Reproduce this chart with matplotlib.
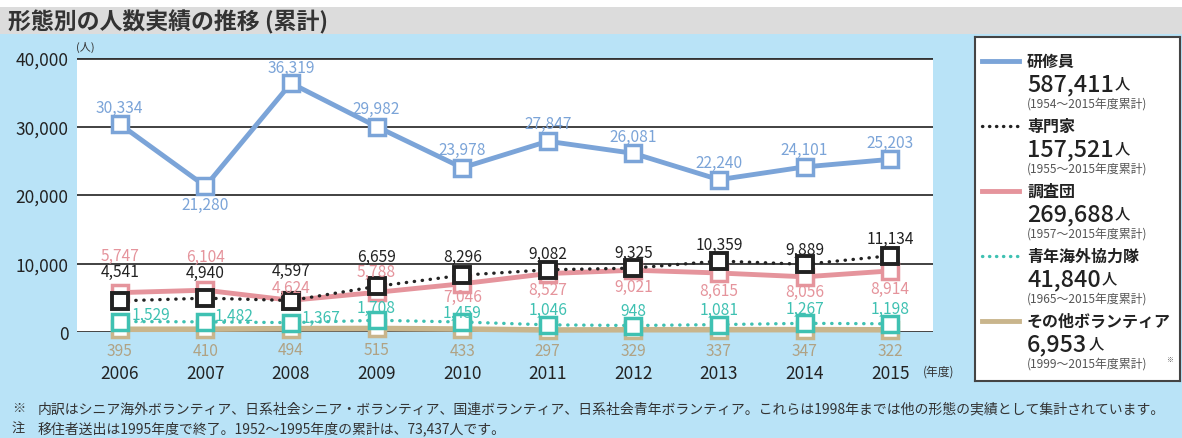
import matplotlib
matplotlib.use("Agg")
import matplotlib.pyplot as plt
import matplotlib.patches as mpatches

plt.rcParams['font.family'] = ['Noto Sans CJK JP', 'DejaVu Sans']

# data
years = [2006, 2007, 2008, 2009, 2010, 2011, 2012, 2013, 2014, 2015]
kenshuin = [30334, 21280, 36319, 29982, 23978, 27847, 26081, 22240, 24101, 25203]
senmonka = [4541, 4940, 4597, 6659, 8296, 9082, 9325, 10359, 9889, 11134]
chosadan = [5747, 6104, 4624, 5788, 7046, 8527, 9021, 8615, 8056, 8914]
kyoryokutai = [1529, 1482, 1367, 1708, 1459, 1046, 948, 1081, 1267, 1198]
sonota = [395, 410, 494, 515, 433, 297, 329, 337, 347, 322]

yticks = [0, 10000, 20000, 30000, 40000]

leg_names = ['研修員', '専門家', '調査団', '青年海外協力隊', 'その他ボランティア']
leg_totals = ['587,411', '157,521', '269,688', '41,840', '6,953']
leg_ranges = ['(1954〜2015年度累計)', '(1955〜2015年度累計)', '(1957〜2015年度累計)',
              '(1965〜2015年度累計)', '(1999〜2015年度累計)']

BLUE = '#7ba4d8'
BLACK = '#222222'
PINK = '#e5949c'
TEAL = '#3fc1b2'
TAN = '#c9b58c'
BG = '#b9e3f7'

# label offsets in pixels (dx, dy), dy positive = down
ofs_blue = [(0, -17), (0, 18), (0, -16), (0, -18), (0, -18), (0, -18), (0, -17), (0, -17), (0, -17), (0, -17)]
ofs_black = [(0, -29), (0, -26), (0, -30), (0, -30), (0, -19), (0, -16), (0, -16), (0, -17), (0, -15), (0, -17)]
ofs_pink = [(0, -37), (0, -34), (0, -13), (0, -21), (0, 13), (0, 16), (0, 16), (0, 17), (0, 15), (0, 18)]
ofs_teal = [(31, -7), (29, -6), (30, -5), (0, -13), (0, -10), (0, -15), (0, -15), (0, -15), (0, -15), (0, -15)]

fig = plt.figure(figsize=(11.82, 4.39), dpi=100)
fig.patch.set_facecolor(BG)

# title band
fig.patches.append(mpatches.Rectangle((0, 1 - 35 / 439), 1, 27 / 439, transform=fig.transFigure,
                                      facecolor='#dcdcdc', edgecolor='none', zorder=0))
fig.patches.append(mpatches.Rectangle((0, 1 - 8 / 439), 1, 8 / 439, transform=fig.transFigure,
                                      facecolor='white', edgecolor='none', zorder=0))
fig.text(8 / 1182, 1 - 22 / 439, '形態別の人数実績の推移 (累計)', fontsize=16.5, fontweight='bold',
         color='#333333', va='center', ha='left')

ax = fig.add_axes([77 / 1182, 1 - 333 / 439, 856 / 1182, 274 / 439])
ax.set_facecolor('white')
ax.set_xlim(2005.5, 2015.5)
ax.set_ylim(0, 40000)
for s in ax.spines.values():
    s.set_visible(False)
for v in yticks:
    ax.axhline(v, color='#333333', lw=2.0 if v in (0, 40000) else 1.3, zorder=1)
ax.set_yticks(yticks)
ax.set_yticklabels([f'{v:,}' for v in yticks], fontsize=12.5, color='#222222')
ax.set_xticks(years)
ax.set_xticklabels([str(y) for y in years], fontsize=12.5, color='#222222')
ax.tick_params(length=0)
ax.tick_params(axis='x', pad=23)
ax.tick_params(axis='y', pad=6)

mk = dict(marker='s', markersize=11, markerfacecolor='white', clip_on=False)
ax.plot(years, sonota, color=TAN, lw=4, markeredgecolor=TAN, markeredgewidth=2.5, zorder=3, **mk)
ax.plot(years, kyoryokutai, color=TEAL, lw=2.4, linestyle=(0, (0.1, 2.3)), dash_capstyle='round',
        markeredgecolor=TEAL, markeredgewidth=2.5, zorder=4, **mk)
ax.plot(years, chosadan, color=PINK, lw=3.5, markeredgecolor=PINK, markeredgewidth=2.5, zorder=5, **mk)
ax.plot(years, senmonka, color=BLACK, lw=2.4, linestyle=(0, (0.1, 2.3)), dash_capstyle='round',
        markeredgecolor=BLACK, markeredgewidth=2.8, zorder=6, **mk)
ax.plot(years, kenshuin, color=BLUE, lw=3.5, markeredgecolor=BLUE, markeredgewidth=2.5, zorder=7, **mk)


def put_labels(vals, offs, color):
    for x, v, (dx, dy) in zip(years, vals, offs):
        ax.annotate(f'{v:,}', (x, v), xytext=(dx, -dy), textcoords='offset pixels',
                    ha='center', va='center', fontsize=11.2, color=color, zorder=10,
                    annotation_clip=False)


put_labels(kenshuin, ofs_blue, BLUE)
put_labels(senmonka, ofs_black, BLACK)
put_labels(chosadan, ofs_pink, PINK)
put_labels(kyoryokutai, ofs_teal, TEAL)
put_labels(sonota, [(0, 21)] * len(years), '#b0a284')

fig.text(76 / 1182, 1 - 47 / 439, '(人)', fontsize=8, color='#333333', ha='left', va='center')
fig.text(923 / 1182, 1 - 372 / 439, '(年度)', fontsize=8.5, color='#333333', ha='left', va='center')

# legend panel
lg = fig.add_axes([975 / 1182, 1 - 382 / 439, 205 / 1182, 344 / 439])
lg.set_xlim(975, 1180)
lg.set_ylim(382, 38)
lg.set_xticks([])
lg.set_yticks([])
lg.set_facecolor('white')
for s in lg.spines.values():
    s.set_color('#444444')
    s.set_linewidth(1.5)

styles = [dict(color=BLUE, lw=3.5), dict(color=BLACK, lw=2.4, linestyle=(0, (0.1, 2.0)), dash_capstyle='round'),
          dict(color=PINK, lw=3.5), dict(color=TEAL, lw=2.4, linestyle=(0, (0.1, 2.0)), dash_capstyle='round'),
          dict(color=TAN, lw=3.5)]
for i, (name, tot, rng, st) in enumerate(zip(leg_names, leg_totals, leg_ranges, styles)):
    y0 = 62 + i * 65
    lg.plot([982, 1019], [y0, y0], **st)
    lg.text(1027, y0, name, fontsize=11.5, fontweight='bold', color='#222222', va='center', ha='left')
    t = lg.text(1027, y0 + 29, tot, fontsize=16.8, fontweight='medium', color='#222222',
                va='baseline', ha='left')
    lg.annotate('人', xy=(1, 0), xycoords=t, xytext=(1, 4), textcoords='offset pixels',
                fontsize=11, fontweight='medium', color='#222222', va='bottom', ha='left')
    lg.text(1027, y0 + 42, rng, fontsize=8.6, color='#555555', va='center', ha='left')
lg.text(1166, 62 + 4 * 65 + 38, '※', fontsize=5, color='#555555', va='center', ha='left')

# notes
fig.text(12 / 1182, 1 - 409 / 439, '※', fontsize=9.5, color='#333333', va='center', ha='left')
fig.text(38 / 1182, 1 - 409 / 439,
         '内訳はシニア海外ボランティア、日系社会シニア・ボランティア、国連ボランティア、日系社会青年ボランティア。'
         'これらは1998年までは他の形態の実績として集計されています。',
         fontsize=10, color='#333333', va='center', ha='left')
fig.text(12 / 1182, 1 - 429 / 439, '注', fontsize=9.5, color='#333333', va='center', ha='left')
fig.text(38 / 1182, 1 - 429 / 439, '移住者送出は1995年度で終了。1952〜1995年度の累計は、73,437人です。',
         fontsize=10, color='#333333', va='center', ha='left')

fig.savefig('out.png', dpi=100, facecolor=fig.get_facecolor())
